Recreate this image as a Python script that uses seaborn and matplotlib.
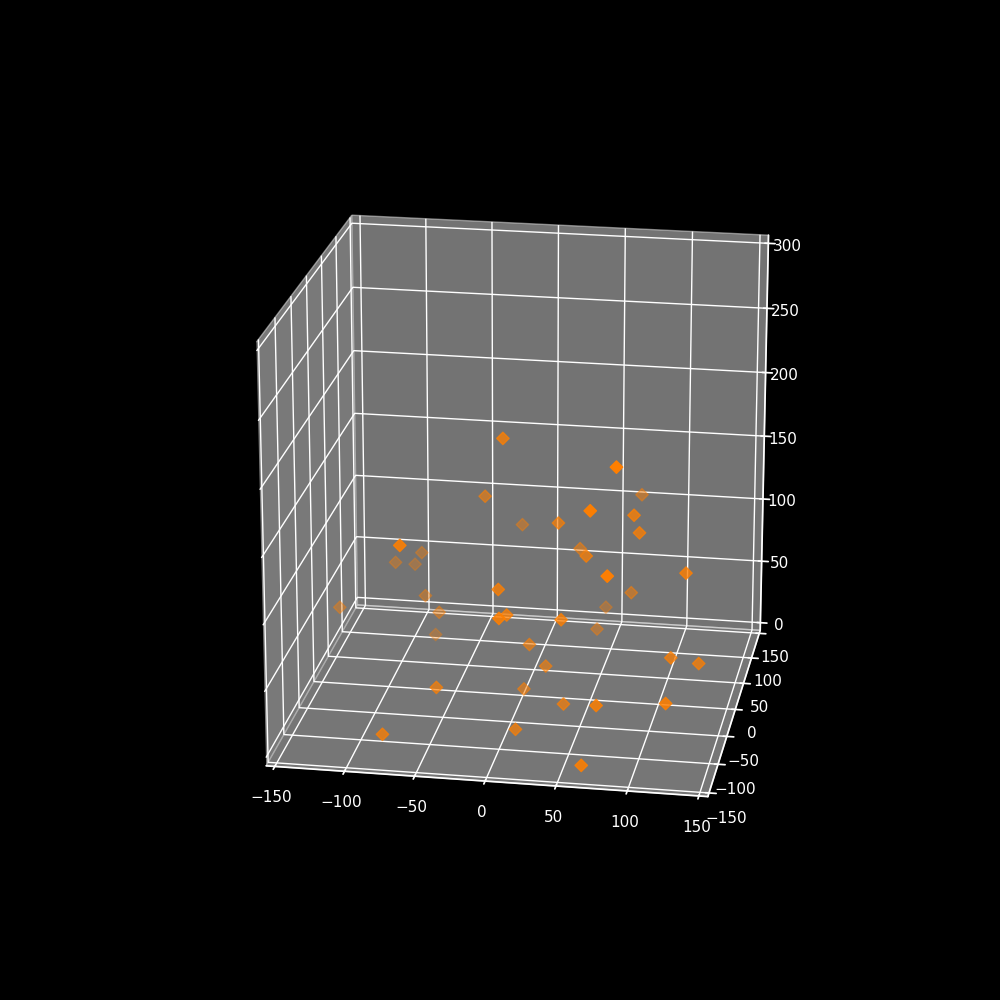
import matplotlib
matplotlib.use("Agg")
import matplotlib.pyplot as plt
import seaborn as sns

X = [-8,84,76,-31,-13,29,66,86,90,36,52,81,126,74,47,46,40,8,20,4,39,71,120,116,136,9,65,-82,-50,-79,-69,-83,-144,-68,-89,-109,-98,-5,1,2]
Y = [-37,-111,74,19,74,-19,-111,-37,-37,37,-37,-130,-56,37,93,56,-74,-19,-19,-19,-56,-111,-111,-56,-56,-84,-139,-111,-74,74,37,56,37,-111,74,74,93,-74,-74,-111]
Z = [205,215,128,140,99,137,182,153,140,97,120,142,119,65,30,27,85,42,26,7,13,37,42,54,51,3,3,4,27,7,40,45,39,148,72,63,55,105,86,98]

sns.set_theme(style="white")
plt.style.use("dark_background")
fig = plt.figure(figsize=(10, 10), dpi=100)
ax = fig.add_subplot(111, projection='3d')
ax.scatter(X, Y, Z, c='#ff7f00', marker='D', s=40)
ax.set_xlim(-156.25, 156.25)
ax.set_ylim(-156.25, 156.25)
ax.set_zlim(-6.25, 306.25)
ax.set_box_aspect((1, 1, 1), zoom=0.95)
ax.view_init(elev=20, azim=-80.3)
fig.savefig("out.png", dpi=100)
